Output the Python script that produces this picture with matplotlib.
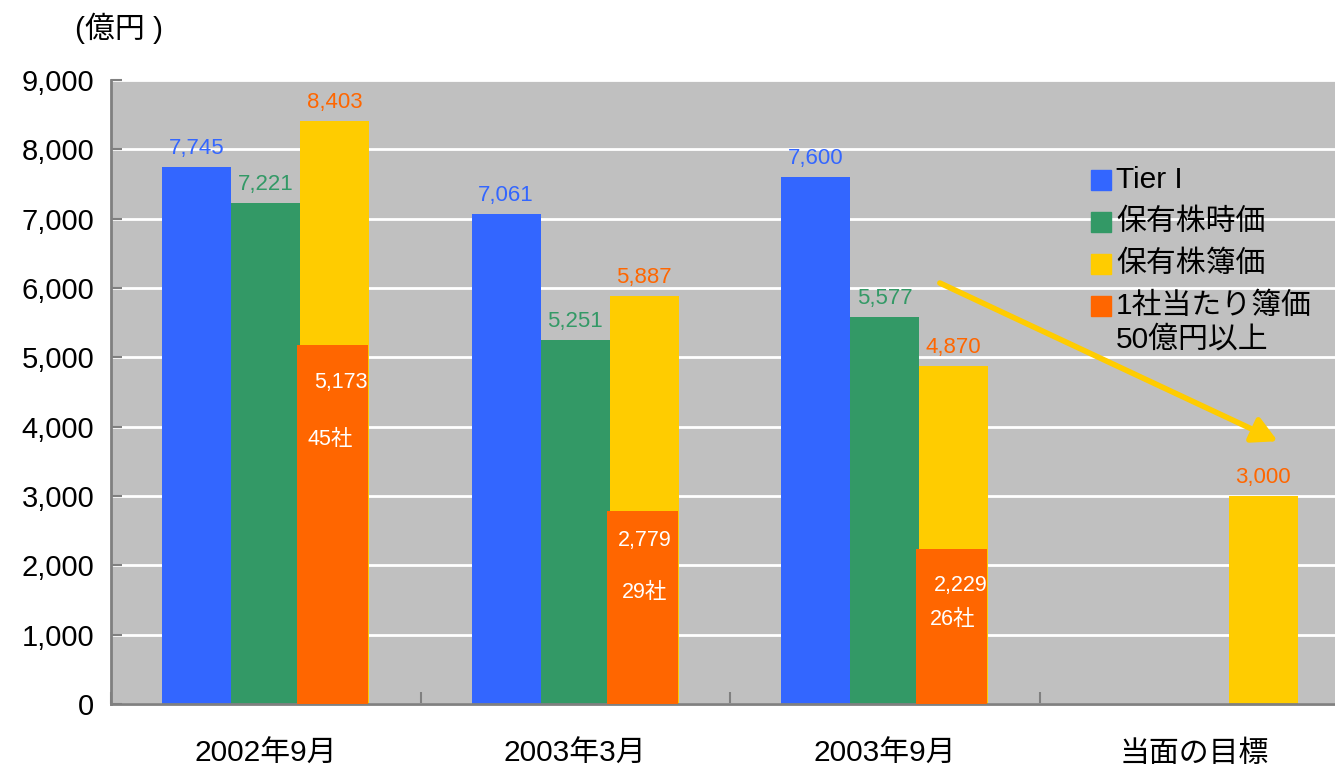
import matplotlib
matplotlib.use("Agg")
import matplotlib.pyplot as plt
import numpy as np

plt.rcParams['font.family'] = ['Liberation Sans', 'Noto Sans CJK JP']

categories = ["2002年9月", "2003年3月", "2003年9月", "当面の目標"]
tier1 = [7745, 7061, 7600, None]
jika = [7221, 5251, 5577, None]
boka = [8403, 5887, 4870, 3000]
big_boka = [5173, 2779, 2229, None]
big_count = ["45社", "29社", "26社", None]

# where the white labels sit inside the orange bars
val_label_y = [4630, 2351, 1716, None]
cnt_label_y = [3822, 1601, 1212, None]
val_label_dx = [0.02, 0.0, 0.023, None]
cnt_label_dx = [-0.016, 0.0, -0.003, None]

c_blue = "#3366ff"
c_green = "#339966"
c_yellow = "#ffcc00"
c_orange = "#ff6600"

fig = plt.figure(figsize=(13.35, 7.67), dpi=100)
ax = fig.add_axes([111 / 1335, 63 / 767, 1238 / 1335, 624 / 767])
ax.set_facecolor("#c0c0c0")

x = np.arange(len(categories))
w = 0.223

for i in range(len(categories)):
    if tier1[i] is not None:
        ax.bar(x[i] - w, tier1[i], w, color=c_blue, zorder=2)
        ax.text(x[i] - w, tier1[i] + 120, f"{tier1[i]:,}", color=c_blue,
                ha="center", va="bottom", fontsize=16)
    if jika[i] is not None:
        ax.bar(x[i], jika[i], w, color=c_green, zorder=2)
        ax.text(x[i], jika[i] + 120, f"{jika[i]:,}", color=c_green,
                ha="center", va="bottom", fontsize=16)
    ax.bar(x[i] + w, boka[i], w, color=c_yellow, zorder=2)
    ax.text(x[i] + w, boka[i] + 120, f"{boka[i]:,}", color=c_orange,
            ha="center", va="bottom", fontsize=16)
    if big_boka[i] is not None:
        ax.bar(x[i] + w - 0.006, big_boka[i], w + 0.006, color=c_orange, zorder=3)
        ax.text(x[i] + w + val_label_dx[i], val_label_y[i], f"{big_boka[i]:,}",
                color="white", ha="center", va="center", fontsize=15.5, zorder=4)
        ax.text(x[i] + w + cnt_label_dx[i], cnt_label_y[i], big_count[i],
                color="white", ha="center", va="center", fontsize=15.5, zorder=4)

# trend arrow
ax.annotate("", xy=(3.27, 3790), xytext=(2.178, 6072),
            arrowprops=dict(arrowstyle="-|>,head_length=1.5,head_width=0.8",
                            color=c_yellow, lw=4, shrinkA=0, shrinkB=0),
            zorder=5)

ax.set_xlim(-0.5, 3.5)
ax.set_ylim(0, 9000)
ax.set_yticks(np.arange(0, 9001, 1000))
ax.set_yticklabels([f"{v:,}" for v in range(0, 9001, 1000)])
ax.yaxis.grid(True, color="white", lw=2, zorder=1)
ax.set_axisbelow(True)

ax.set_xticks(x)
ax.set_xticklabels(categories)
ax.set_xticks(np.arange(-0.5, 3.6, 1), minor=True)
ax.tick_params(axis="x", which="major", length=0, labelsize=21.5, pad=26)
ax.tick_params(axis="x", which="minor", length=9, direction="in", color="#808080", width=1.5)
ax.tick_params(axis="y", length=8, direction="in", color="#808080", width=1.5,
               labelsize=21, pad=12)

for s in ["top", "right"]:
    ax.spines[s].set_visible(False)
for s in ["left", "bottom"]:
    ax.spines[s].set_color("#808080")
    ax.spines[s].set_linewidth(2)

fig.text(75 / 1335, 1 - 28 / 767, "(億円 )", fontsize=21.5, ha="left", va="center")

# legend
leg_items = [(c_blue, "Tier I"), (c_green, "保有株時価"), (c_yellow, "保有株簿価"),
             (c_orange, "1社当たり簿価")]
for k, (col, lab) in enumerate(leg_items):
    yy = 1 - (180 + 42 * k) / 767
    fig.patches.append(plt.Rectangle((1091 / 1335, yy - 10 / 767), 20 / 1335, 20 / 767,
                                     transform=fig.transFigure, color=col, zorder=6))
    fig.text(1116 / 1335, yy, lab, fontsize=21.5, ha="left", va="center", zorder=6)
fig.text(1116 / 1335, 1 - 340 / 767, "50億円以上", fontsize=21.5, ha="left", va="center", zorder=6)

fig.savefig("out.png", dpi=100)
